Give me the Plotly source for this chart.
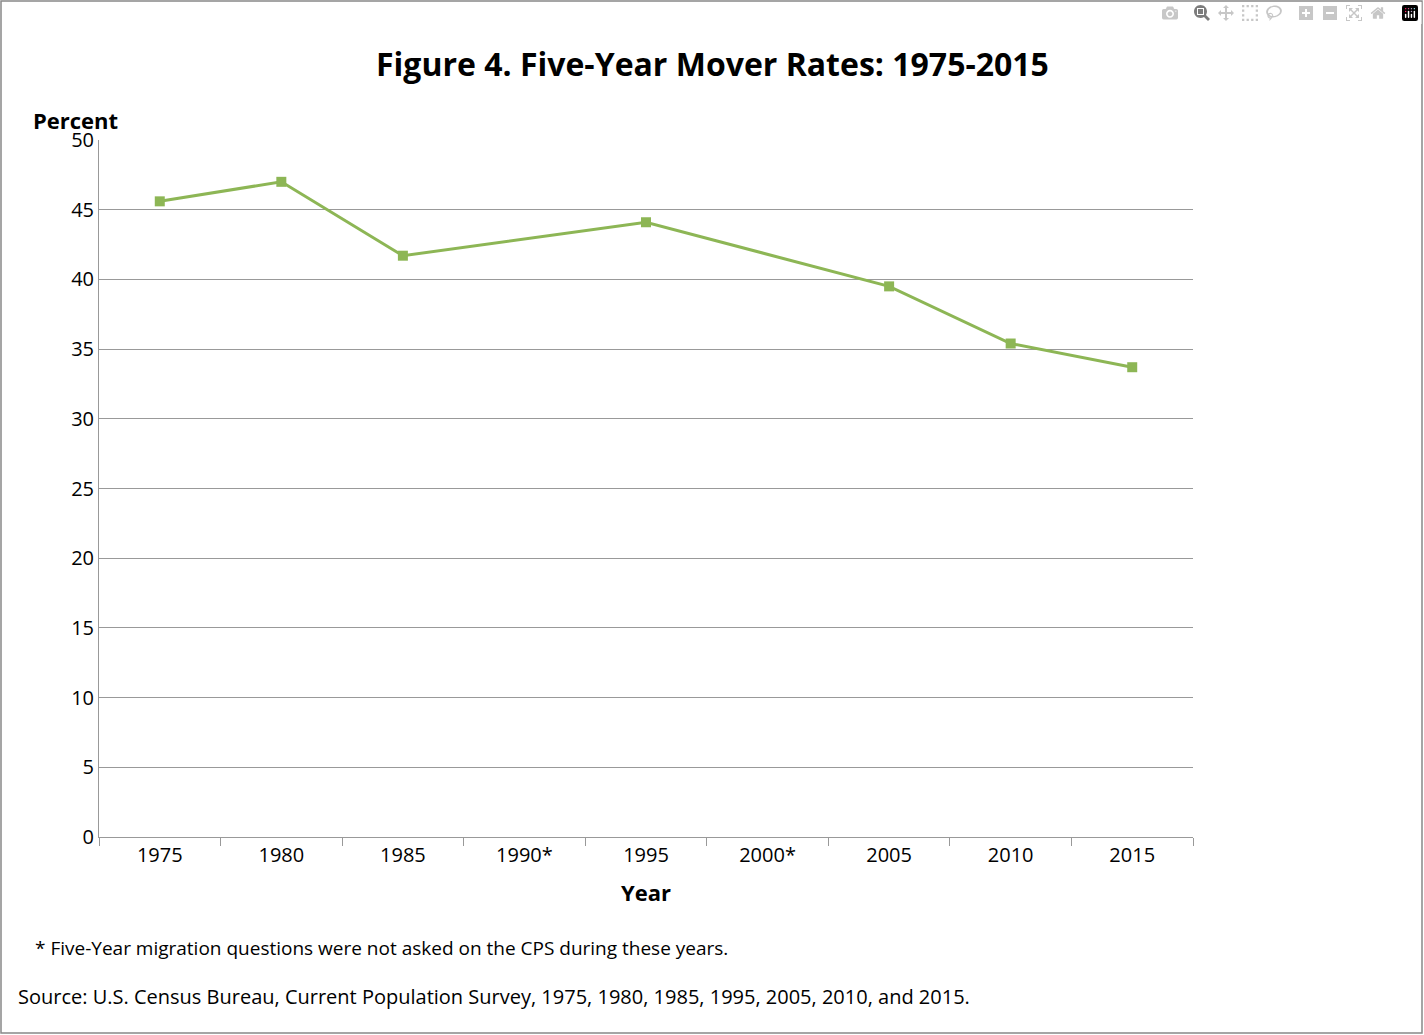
import plotly.graph_objects as go

years = ["1975", "1980", "1985", "1990*", "1995", "2000*", "2005", "2010", "2015"]
rates = [45.6, 47.0, 41.7, None, 44.1, None, 39.5, 35.4, 33.7]
y_ticks = [0, 5, 10, 15, 20, 25, 30, 35, 40, 45, 50]

W, H = 1424, 1035
L, R, T, B = 99, 1193, 140, 837
pw, ph = R - L, B - T
font = "Open Sans, Liberation Sans, sans-serif"

fig = go.Figure(go.Scatter(
    x=years, y=rates, mode="lines+markers", connectgaps=True,
    line=dict(color="#8DB655", width=3),
    marker=dict(symbol="square", size=10, color="#8DB655"),
))

def px(x): return (x - L) / pw
def py(y): return (B - y) / ph

fig.update_layout(
    width=W, height=H, margin=dict(l=L, r=W - R, t=T, b=H - B),
    paper_bgcolor="white", plot_bgcolor="white", showlegend=False,
    font=dict(family=font, size=20, color="black"),
    xaxis=dict(type="category", categoryorder="array", categoryarray=years,
               showgrid=False, showline=True, linecolor="#999999", linewidth=1,
               ticks="outside", tickson="boundaries", ticklen=8, tickcolor="#999999",
               tickfont=dict(size=20), range=[-0.5, 8.5]),
    yaxis=dict(range=[0, 50], tickvals=y_ticks, showgrid=True, gridcolor="#999999",
               showline=True, linecolor="#999999", ticks="", tickfont=dict(size=20),
               zeroline=False),
    shapes=[dict(type="rect", xref="paper", yref="paper",
                 x0=px(1), x1=px(1422), y0=py(1033), y1=py(1),
                 line=dict(color="#888888", width=1.5))],
    annotations=[
        dict(text="<b>Figure 4. Five-Year Mover Rates: 1975-2015</b>", x=px(712), y=py(40),
             xref="paper", yref="paper", showarrow=False, font=dict(size=32)),
        dict(text="<b>Percent</b>", x=px(31), y=py(103), xref="paper", yref="paper",
             xanchor="left", showarrow=False, font=dict(size=22)),
        dict(text="<b>Year</b>", x=px(646), y=py(909), xref="paper", yref="paper",
             showarrow=False, font=dict(size=22)),
        dict(text="* Five-Year migration questions were not asked on the CPS during these years.",
             x=px(33), y=py(963), xref="paper", yref="paper", xanchor="left",
             showarrow=False, font=dict(size=19)),
        dict(text="Source: U.S. Census Bureau, Current Population Survey, 1975, 1980, 1985, 1995, 2005, 2010, and 2015.",
             x=px(16), y=py(1012), xref="paper", yref="paper", xanchor="left",
             showarrow=False, font=dict(size=20)),
    ],
)
fig.write_html("out.html", post_script="document.body.style.margin='0';document.body.style.overflow='hidden';")
